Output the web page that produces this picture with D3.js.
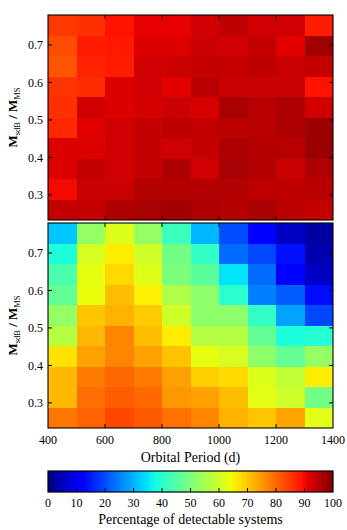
<!DOCTYPE html>
<html>
<head>
<meta charset="utf-8">
<script src="https://cdn.jsdelivr.net/npm/d3@7"></script>
<style>
  body { margin: 0; background: #fff; }
</style>
</head>
<body>
<div id="chart"></div>
<script>
// orbital period bins (left edges) and mass ratio extent
const periods = [400, 500, 600, 700, 800, 900, 1000, 1100, 1200, 1300];
const periodStep = 100;
const qExtent = [0.233, 0.78];
const xTicks = [400, 600, 800, 1000, 1200, 1400];
const yTicks = [0.3, 0.4, 0.5, 0.6, 0.7];
const cbTicks = [0, 10, 20, 30, 40, 50, 60, 70, 80, 90, 100];

// percentage of detectable systems, rows from top (high q) to bottom (low q)
const topValues = [
  [85, 86, 89, 91, 91, 93, 94.5, 93, 93, 88],
  [83, 88, 88.5, 92, 92, 93.5, 93, 94, 91.5, 97],
  [82, 87.5, 88, 93, 93.5, 94, 94, 94.5, 93.5, 94],
  [85.5, 86.5, 92, 93, 91.5, 95, 93.5, 93.5, 93.5, 89],
  [86, 93, 92, 92.5, 93.5, 92.5, 96.5, 95, 96, 93],
  [87, 91.5, 93, 94, 94.5, 94, 94.8, 95, 96, 97.5],
  [92, 92, 93, 94, 93, 94, 96, 95.5, 95, 97.5],
  [92, 94, 93, 94, 96, 93, 96.5, 95.5, 93.5, 96],
  [90, 93.5, 93.5, 95.5, 95.5, 95.5, 95.5, 94.5, 94.5, 95],
  [94, 94, 96, 96.5, 97, 96, 95.5, 96.5, 94.8, 94]
];
const bottomValues = [
  [32, 53, 62, 53, 42, 30.5, 20, 11.5, 6, 3],
  [38.5, 61, 66, 60, 49, 41, 23, 19.5, 14, 4],
  [44, 63, 68, 62, 50, 46, 35, 23, 12, 6],
  [47, 63.5, 71, 65.5, 56, 52, 40, 25, 21.5, 13.5],
  [53, 70, 72, 69.5, 60, 52, 52, 41, 28.5, 19.5],
  [57, 71.5, 77, 71, 66, 57, 57, 47, 38.5, 39.5],
  [67, 74, 77, 74, 70.5, 63, 61, 52, 47, 53],
  [71.5, 78, 80, 78, 74, 69, 68, 62, 58.5, 66],
  [71.5, 79.5, 81, 80, 75, 74, 71, 62.5, 60, 49],
  [78.5, 80.5, 83.5, 81.5, 79, 77, 72, 70, 73.5, 62.5]
];

// matplotlib "jet" colour map
function jet(t) {
  t = Math.max(0, Math.min(1, t));
  function seg(pts) {
    for (let i = 1; i < pts.length; i++) {
      if (t <= pts[i][0]) {
        const [x0, y0] = pts[i - 1], [x1, y1] = pts[i];
        return y0 + (y1 - y0) * (t - x0) / (x1 - x0);
      }
    }
    return pts[pts.length - 1][1];
  }
  const r = seg([[0, 0], [0.35, 0], [0.66, 1], [0.89, 1], [1, 0.5]]);
  const g = seg([[0, 0], [0.125, 0], [0.375, 1], [0.64, 1], [0.91, 0], [1, 0]]);
  const b = seg([[0, 0.5], [0.11, 1], [0.34, 1], [0.65, 0], [1, 0]]);
  return d3.rgb(r * 255, g * 255, b * 255).formatHex();
}

const W = 347, H = 530;
const left = 48, right = 333;
const panels = [
  {values: topValues, y0: 15, y1: 220, showX: false},
  {values: bottomValues, y0: 223, y1: 428, showX: true}
];

const svg = d3.select("#chart").append("svg")
    .attr("width", W)
    .attr("height", H)
    .attr("font-family", "'Liberation Serif', 'DejaVu Serif', serif");

const x = d3.scaleLinear().domain([400, 1400]).range([left, right]);
const color = v => jet(v / 100);
const tickLen = 4;

panels.forEach((p, pi) => {
  const y = d3.scaleLinear().domain(qExtent).range([p.y1, p.y0]);
  const nRows = p.values.length;
  const qStep = (qExtent[1] - qExtent[0]) / nRows;
  const cells = [];
  p.values.forEach((row, ri) => {
    row.forEach((v, ci) => {
      cells.push({p: periods[ci], qTop: qExtent[1] - ri * qStep, v: v});
    });
  });

  const g = svg.append("g");
  g.selectAll("rect")
    .data(cells)
    .join("rect")
    .attr("x", d => x(d.p))
    .attr("y", d => y(d.qTop))
    .attr("width", d => x(d.p + periodStep) - x(d.p) + 0.3)
    .attr("height", d => y(d.qTop - qStep) - y(d.qTop) + 0.3)
    .attr("fill", d => color(d.v))
    .attr("shape-rendering", "crispEdges");

  // ticks on all four sides, pointing inward
  const innerX = xTicks.slice(1, -1);
  g.selectAll(".xt")
    .data(innerX)
    .join("line")
    .attr("x1", d => x(d)).attr("x2", d => x(d))
    .attr("y1", p.y1).attr("y2", p.y1 - tickLen)
    .attr("stroke", "#000");
  g.selectAll(".xtt")
    .data(innerX)
    .join("line")
    .attr("x1", d => x(d)).attr("x2", d => x(d))
    .attr("y1", p.y0).attr("y2", p.y0 + tickLen)
    .attr("stroke", "#000");
  g.selectAll(".yt")
    .data(yTicks)
    .join("line")
    .attr("x1", left).attr("x2", left + tickLen)
    .attr("y1", d => y(d)).attr("y2", d => y(d))
    .attr("stroke", "#000");
  g.selectAll(".ytr")
    .data(yTicks)
    .join("line")
    .attr("x1", right).attr("x2", right - tickLen)
    .attr("y1", d => y(d)).attr("y2", d => y(d))
    .attr("stroke", "#000");

  g.selectAll(".yl")
    .data(yTicks)
    .join("text")
    .attr("x", left - 5)
    .attr("y", d => y(d))
    .attr("dy", "0.35em")
    .attr("text-anchor", "end")
    .attr("font-size", 12)
    .text(d => d.toFixed(1));

  g.append("rect")
    .attr("x", left).attr("y", p.y0)
    .attr("width", right - left).attr("height", p.y1 - p.y0)
    .attr("fill", "none")
    .attr("stroke", "#000")
    .attr("stroke-width", 1.1);

  // y label: M_sdB / M_MS
  const lab = g.append("text")
    .attr("transform", `translate(17, ${(p.y0 + p.y1) / 2}) rotate(-90)`)
    .attr("text-anchor", "middle")
    .attr("font-size", 13)
    .attr("font-weight", "bold");
  lab.append("tspan").text("M");
  lab.append("tspan").attr("font-size", 8.5).attr("font-weight", "normal").attr("dy", 3).text("sdB");
  lab.append("tspan").attr("dy", -3).text(" / M");
  lab.append("tspan").attr("font-size", 8.5).attr("font-weight", "normal").attr("dy", 3).text("MS");

  if (p.showX) {
    g.selectAll(".xl")
      .data(xTicks)
      .join("text")
      .attr("x", d => x(d))
      .attr("y", p.y1 + 16)
      .attr("text-anchor", "middle")
      .attr("font-size", 12)
      .text(d => d);
    g.append("text")
      .attr("x", (left + right) / 2)
      .attr("y", p.y1 + 34)
      .attr("text-anchor", "middle")
      .attr("font-size", 14)
      .text("Orbital Period (d)");
  }
});

// colour bar
const cbY0 = 471, cbY1 = 492;
const cx = d3.scaleLinear().domain([0, 100]).range([left, right]);
const grad = svg.append("defs").append("linearGradient")
    .attr("id", "jetgrad")
    .attr("x1", "0%").attr("x2", "100%");
grad.selectAll("stop")
  .data(d3.range(0, 101))
  .join("stop")
  .attr("offset", d => d + "%")
  .attr("stop-color", d => color(d));

svg.append("rect")
  .attr("x", left).attr("y", cbY0)
  .attr("width", right - left).attr("height", cbY1 - cbY0)
  .attr("fill", "url(#jetgrad)")
  .attr("stroke", "#000")
  .attr("stroke-width", 1.2);

svg.selectAll(".cbt")
  .data(cbTicks.slice(1, -1))
  .join("line")
  .attr("x1", d => cx(d)).attr("x2", d => cx(d))
  .attr("y1", cbY1).attr("y2", cbY1 - tickLen)
  .attr("stroke", "#000");

svg.selectAll(".cbl")
  .data(cbTicks)
  .join("text")
  .attr("x", d => cx(d))
  .attr("y", cbY1 + 15)
  .attr("text-anchor", "middle")
  .attr("font-size", 12)
  .text(d => d);

svg.append("text")
  .attr("x", (left + right) / 2)
  .attr("y", cbY1 + 32)
  .attr("text-anchor", "middle")
  .attr("font-size", 14)
  .text("Percentage of detectable systems");
</script>
</body>
</html>
